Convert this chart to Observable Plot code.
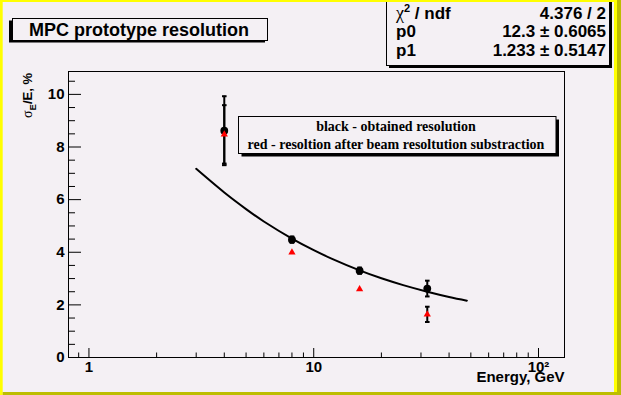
<!DOCTYPE html>
<html><head><meta charset="utf-8">
<script src="https://cdn.jsdelivr.net/npm/d3@7"></script>
<script src="https://cdn.jsdelivr.net/npm/@observablehq/plot@0.6"></script>
<style>
html,body{margin:0;padding:0;background:#F4F0F4;}
#chart{width:621px;height:395px;position:relative;overflow:hidden;}
svg{display:block;}
</style></head><body><div id="chart"></div>
<script>
// ---- data ----
const energy   = [4, 8, 16, 32];                 // GeV
const blackRes = [8.62, 4.48, 3.30, 2.62];       // sigma_E/E, % (obtained)
const blackErr = [1.31, 0.12, 0.12, 0.30];
const redRes   = [8.48, 3.99, 2.60, 1.64];       // after beam resolution subtraction
const redErr   = [1.11, 0, 0, 0.29];
// fit curve
const fitE   = [3, 4, 5, 6, 8, 10, 12, 16, 20, 25, 32, 40, 48];
const fitRes = [7.17, 6.27, 5.64, 5.17, 4.52, 4.08, 3.76, 3.31, 3.01, 2.75, 2.50, 2.30, 2.16];
// axes
const xMajor  = [1, 10, 100];
const xLabels = ["1", "10", "10²"];
const xMinor  = [0.9, 2, 3, 4, 5, 6, 7, 8, 9, 20, 30, 40, 50, 60, 70, 80, 90];
const yMajor  = [0, 2, 4, 6, 8, 10];
const yMinor  = [0.5, 1, 1.5, 2.5, 3, 3.5, 4.5, 5, 5.5, 6.5, 7, 7.5, 8.5, 9, 9.5, 10.5];
const titleText = "MPC prototype resolution";
const statsRows = [["χ", "2", " / ndf", "4.376 / 2"], ["p0", "", "", "12.3 ± 0.6065"], ["p1", "", "", "1.233 ± 0.5147"]];
const legendLines = ["black - obtained resolution", "red - resoltion after beam resoltution substraction"];

// ---- layout ----
const W = 621, H = 395;
const mL = 68, mR = 57, mT = 71, mB = 38;
const frameW = W - mL - mR, frameH = H - mT - mB;
const BG = "#F4F0F4";
const sans = "'Liberation Sans', Arial, Helvetica, sans-serif";
const serif = "'Liberation Serif', 'Times New Roman', serif";

const black = energy.map((e, i) => ({e, v: blackRes[i], err: blackErr[i]}));
const red = energy.map((e, i) => ({e, v: redRes[i], err: redErr[i]}));
const fit = fitE.map((e, i) => ({e, v: fitRes[i]}));
const bars = [...black, ...red].filter(d => d.err > 0);
const caps = bars.flatMap(d => [{e: d.e, v: d.v - d.err}, {e: d.e, v: d.v + d.err}]);
const hbar = {draw(ctx, size) { const r = Math.sqrt(size / Math.PI); ctx.moveTo(-r, 0); ctx.lineTo(r, 0); }};

const chart = Plot.plot({
  width: W, height: H,
  marginLeft: mL, marginRight: mR, marginTop: mT, marginBottom: mB,
  style: {background: BG, fontFamily: sans, color: "black"},
  x: {type: "log", domain: [0.811, 130.5], axis: null},
  y: {domain: [0, 10.87], axis: null},
  marks: [
    Plot.frame({stroke: "black", strokeWidth: 1}),
    Plot.tickX(xMajor, {x: d => d, insetTop: frameH - 9, stroke: "black"}),
    Plot.tickX(xMinor, {x: d => d, insetTop: frameH - 4.5, stroke: "black"}),
    Plot.tickY(yMajor, {y: d => d, insetRight: frameW - 13, stroke: "black"}),
    Plot.tickY(yMinor, {y: d => d, insetRight: frameW - 7, stroke: "black"}),
    Plot.text(xMajor, {x: d => d, frameAnchor: "bottom", dy: 14, text: (d, i) => xLabels[i], fontSize: 15, fontWeight: "bold", fill: "black"}),
    Plot.text(yMajor, {y: d => d, frameAnchor: "left", dx: -4, textAnchor: "end", text: d => String(d), fontSize: 15, fontWeight: "bold", fill: "black"}),
    Plot.text(["Energy, GeV"], {frameAnchor: "bottom-right", dy: 24, textAnchor: "end", text: d => d, fontSize: 15, fontWeight: "bold", fill: "black"}),
    Plot.ruleX(bars, {x: "e", y1: d => d.v - d.err, y2: d => d.v + d.err, stroke: "black", strokeWidth: 2}),
    Plot.dot(caps, {x: "e", y: "v", symbol: hbar, r: 2.3, stroke: "black", strokeWidth: 2, fill: "none"}),
    Plot.line(fit, {x: "e", y: "v", curve: "natural", stroke: "black", strokeWidth: 2}),
    Plot.dot(black, {x: "e", y: "v", r: 3.9, fill: "black", stroke: "none"}),
    Plot.dot(red, {x: "e", y: "v", symbol: "triangle", r: 2.7, fill: "#ff0000", stroke: "none"})
  ]
});
document.getElementById("chart").appendChild(chart);

// ---- annotations (ROOT style panes) ----
const svg = d3.select(chart);

// y-axis title, rotated, top aligned
const yt = svg.append("text")
  .attr("transform", "translate(32,73) rotate(-90)")
  .attr("text-anchor", "end").attr("font-family", sans).attr("font-size", 13).attr("font-weight", "bold").attr("fill", "black");
yt.append("tspan").attr("font-family", serif).attr("font-weight", "normal").attr("font-size", 14).text("σ");
yt.append("tspan").attr("dy", 4).attr("font-size", 9.5).text("E");
yt.append("tspan").attr("dy", -4).text("/E, %");

// title pave
const tg = svg.append("g");
tg.append("rect").attr("x", 9).attr("y", 20.5).attr("width", 256).attr("height", 22).attr("fill", "black");
tg.append("rect").attr("x", 12.5).attr("y", 18.5).attr("width", 255).attr("height", 22).attr("fill", BG).attr("stroke", "black");
tg.append("text").attr("x", 139).attr("y", 36).attr("text-anchor", "middle")
  .attr("font-family", sans).attr("font-size", 18).attr("font-weight", "bold").attr("fill", "black").text(titleText);

// stats box
const sg = svg.append("g");
sg.append("rect").attr("x", 389).attr("y", 0).attr("width", 223).attr("height", 68).attr("fill", "black");
sg.append("rect").attr("x", 386.5).attr("y", -3).attr("width", 223).attr("height", 68.5).attr("fill", BG).attr("stroke", "black");
statsRows.forEach((r, i) => {
  const y = 18.5 + i * 18.6;
  const t = sg.append("text").attr("x", 396).attr("y", y).attr("text-anchor", "start")
    .attr("font-family", sans).attr("font-size", 17).attr("font-weight", "bold").attr("fill", "black");
  if (r[1]) {
    t.append("tspan").attr("font-family", serif).attr("font-weight", "normal").attr("font-size", 18).text(r[0]);
    t.append("tspan").attr("dy", -7).attr("font-size", 11).text(r[1]);
    t.append("tspan").attr("dy", 7).text(r[2]);
  } else {
    t.text(r[0]);
  }
  sg.append("text").attr("x", 606).attr("y", y).attr("text-anchor", "end").attr("font-family", sans).attr("font-size", 17).attr("font-weight", "bold").attr("fill", "black").text(r[3]);
});

// legend pave text
const lg = svg.append("g");
lg.append("rect").attr("x", 241.5).attr("y", 119.5).attr("width", 317.5).attr("height", 37).attr("fill", "black");
lg.append("rect").attr("x", 238.5).attr("y", 116.5).attr("width", 317.5).attr("height", 37).attr("fill", BG).attr("stroke", "black");
legendLines.forEach((s, i) => {
  lg.append("text").attr("x", 396).attr("y", 131 + i * 17.5).attr("text-anchor", "middle")
    .attr("font-family", serif).attr("font-size", 14).attr("font-weight", "bold").attr("fill", "black").text(s);
});

// canvas bevel border
const bd = svg.append("g");
bd.append("rect").attr("x", 0).attr("y", 0).attr("width", W).attr("height", 2).attr("fill", "#FFFF00");
bd.append("rect").attr("x", 0).attr("y", 0).attr("width", 2.7).attr("height", H).attr("fill", "#FFFF00");
bd.append("rect").attr("x", 614).attr("y", 0).attr("width", 3).attr("height", H).attr("fill", "#FFFF00");
bd.append("rect").attr("x", 617).attr("y", 0).attr("width", 4).attr("height", H).attr("fill", "#BDBD00");
bd.append("rect").attr("x", 2.7).attr("y", 392).attr("width", W - 2.7).attr("height", 3).attr("fill", "#BDBD00");
</script></body></html>
